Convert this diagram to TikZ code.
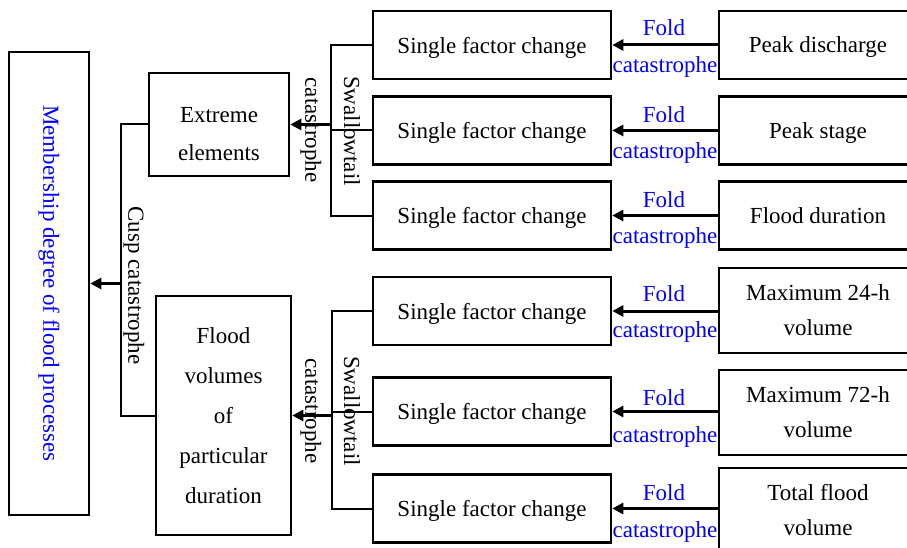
\documentclass[tikz,border=0pt]{standalone}
\usepackage{fontspec}
\setmainfont{Liberation Serif}
\usetikzlibrary{arrows.meta,calc}
\begin{document}
\begin{tikzpicture}[x=1pt,y=-1pt,
  every node/.style={font=\fontsize{23}{38}\selectfont, inner sep=0pt},
  boxn/.style={draw, line width=2.6pt, rectangle, align=center},
  conn/.style={line width=2pt},
  arr/.style={line width=3pt, -{Triangle[length=11pt,width=11pt]}},
  bluelbl/.style={text=blue},
]
\useasboundingbox (0,0) rectangle (907,548);
\clip (0,0) rectangle (907,548);
\fill[white] (0,0) rectangle (907,548);

% left boxes
\node[boxn, minimum width=80pt, minimum height=463pt] (mem) at (49,283.5) {};
\node[text=blue, rotate=-90] (memt) at (49,283.5) {Membership degree of flood processes};
\node[boxn, minimum width=140pt, minimum height=103pt, text depth=0pt] (ext) at (219,124.5) {\raisebox{2pt}{\parbox{130pt}{\centering Extreme\\elements}}};
\node[boxn, minimum width=135pt, minimum height=239pt, font=\fontsize{23}{40}\selectfont] (fvol) at (223.5,415.5) {Flood\\volumes\\of\\particular\\duration};

% single factor boxes
\foreach \n/\y in {s1/45, s2/130.5, s3/215.5, s4/311, s5/411.5, s6/508.5}{
  \node[boxn, minimum width=238pt, minimum height=68pt, text depth=0pt] (\n) at (492,\y) {Single factor change};
}

% right boxes
\node[boxn, minimum width=198pt, minimum height=68pt, text depth=0pt] (r1) at (818,45) {Peak discharge};
\node[boxn, minimum width=198pt, minimum height=68pt, text depth=0pt] (r2) at (818,130.5) {Peak stage};
\node[boxn, minimum width=198pt, minimum height=68pt, text depth=0pt] (r3) at (818,215.5) {Flood duration};
\node[boxn, minimum width=198pt, minimum height=85pt, font=\fontsize{23}{35}\selectfont] (r4) at (818,310.5) {Maximum 24-h\\volume};
\node[boxn, minimum width=198pt, minimum height=85pt, font=\fontsize{23}{35}\selectfont] (r5) at (818,412.5) {Maximum 72-h\\volume};
\node[boxn, minimum width=198pt, minimum height=85pt, font=\fontsize{23}{35}\selectfont] (r6) at (818,510.5) {Total flood\\volume};

% fold arrows and labels
\foreach \i/\fy/\cy in {1/28/67, 2/115/153, 3/200/238, 4/294/332, 5/398/437, 6/493/532}{
  \draw[arr] (r\i.west |- s\i.east) -- (s\i.east);
  \node[bluelbl] (fold\i) at (664,\fy) {Fold};
  \node[bluelbl] (cat\i) at (665,\cy) {catastrophe};
}

% swallowtail top
\coordinate (j1) at (331,124.5);
\draw[conn] (s1.west) -- (s1.west -| j1) |- (s3.west);
\draw[conn] (s2.west) -- (s2.west -| j1);
\draw[arr] (j1) -- (ext.east);
\node[rotate=-90] (sw1) at (352,131) {Swallowtail};
\node[rotate=-90] (ca1) at (311,130) {catastrophe};

% swallowtail bottom
\coordinate (j2) at (332,415.5);
\draw[conn] (s4.west) -- (s4.west -| j2) |- (s6.west);
\draw[conn] (s5.west) -- (s5.west -| j2);
\draw[arr] (j2) -- (fvol.east);
\node[rotate=-90] (sw2) at (352,411) {Swallowtail};
\node[rotate=-90] (ca2) at (311,411) {catastrophe};

% cusp
\coordinate (j3) at (121,283.5);
\draw[conn] (ext.west) -- (ext.west -| j3) |- (fvol.west);
\draw[arr] (j3) -- (mem.east);
\node[rotate=-90] (cusp) at (134,285.5) {Cusp catastrophe};
\end{tikzpicture}
\end{document}
